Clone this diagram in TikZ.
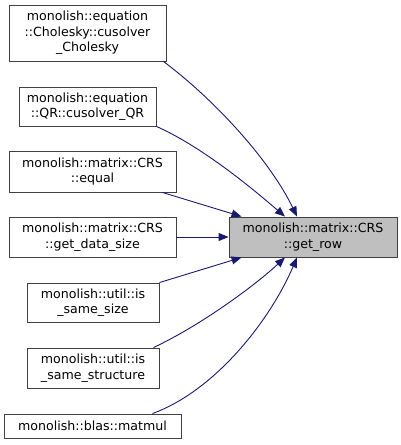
\documentclass[tikz,border=0pt]{standalone}
\usepackage{fontspec}
\setmainfont{DejaVu Sans}
\usetikzlibrary{arrows.meta}
\definecolor{edgeblue}{RGB}{25,25,112}
\definecolor{boxline}{RGB}{64,64,64}
\definecolor{boxfill}{RGB}{191,191,191}
\tikzset{
  fn/.style={draw=boxline,line width=0.9pt,fill=white,inner sep=0pt,align=center,
    font=\fontsize{12.6}{15.5}\selectfont},
  caller/.style={draw=edgeblue,line width=0.9pt,-{Triangle[length=10pt,width=8pt]}}
}

\begin{document}
\begin{tikzpicture}[x=1pt,y=-1pt]
\useasboundingbox (0,0) rectangle (401,445);
% callers on the left
\node[fn,minimum width=157pt,minimum height=56pt] (chol) at (87.5,33) {monolish::equation\\::Cholesky::cusolver\\\_Cholesky};
\node[fn,minimum width=137pt,minimum height=39pt] (qr) at (87.5,106.5) {monolish::equation\\::QR::cusolver\_QR};
\node[fn,minimum width=167pt,minimum height=41pt] (equal) at (92.5,171.5) {monolish::matrix::CRS\\::equal};
\node[fn,minimum width=167pt,minimum height=40pt] (datasize) at (92.5,237) {monolish::matrix::CRS\\::get\_data\_size};
\node[fn,minimum width=132pt,minimum height=39pt] (samesize) at (93,302.5) {monolish::util::is\\\_same\_size};
\node[fn,minimum width=132pt,minimum height=40pt] (samestruct) at (93,368) {monolish::util::is\\\_same\_structure};
\node[fn,minimum width=177pt,minimum height=24pt] (matmul) at (92.5,426) {monolish::blas::matmul};
% the function itself
\node[fn,fill=boxfill,minimum width=168pt,minimum height=40pt] (getrow) at (313,237) {monolish::matrix::CRS\\::get\_row};

\draw[caller] ([xshift=-3pt]chol.south east) .. controls +(52,39) and +(-27,-56) .. ([xshift=-16pt]getrow.north);
\draw[caller] (qr.south east) .. controls +(45,20) and +(-35,-30) .. ([xshift=-28pt]getrow.north);
\draw[caller] ([xshift=-14pt]equal.south east) -- ([xshift=13pt]getrow.north west);
\draw[caller] (datasize) -- (getrow);
\draw[caller] (samesize.north east) -- ([xshift=13pt]getrow.south west);
\draw[caller] ([xshift=-6pt]samestruct.north east) .. controls +(47,-22) and +(-30,28) .. ([xshift=-28pt]getrow.south);
\draw[caller] ([xshift=-29pt]matmul.north east) .. controls +(63,-23) and +(-27,63) .. ([xshift=-16pt]getrow.south);
\end{tikzpicture}
\end{document}
